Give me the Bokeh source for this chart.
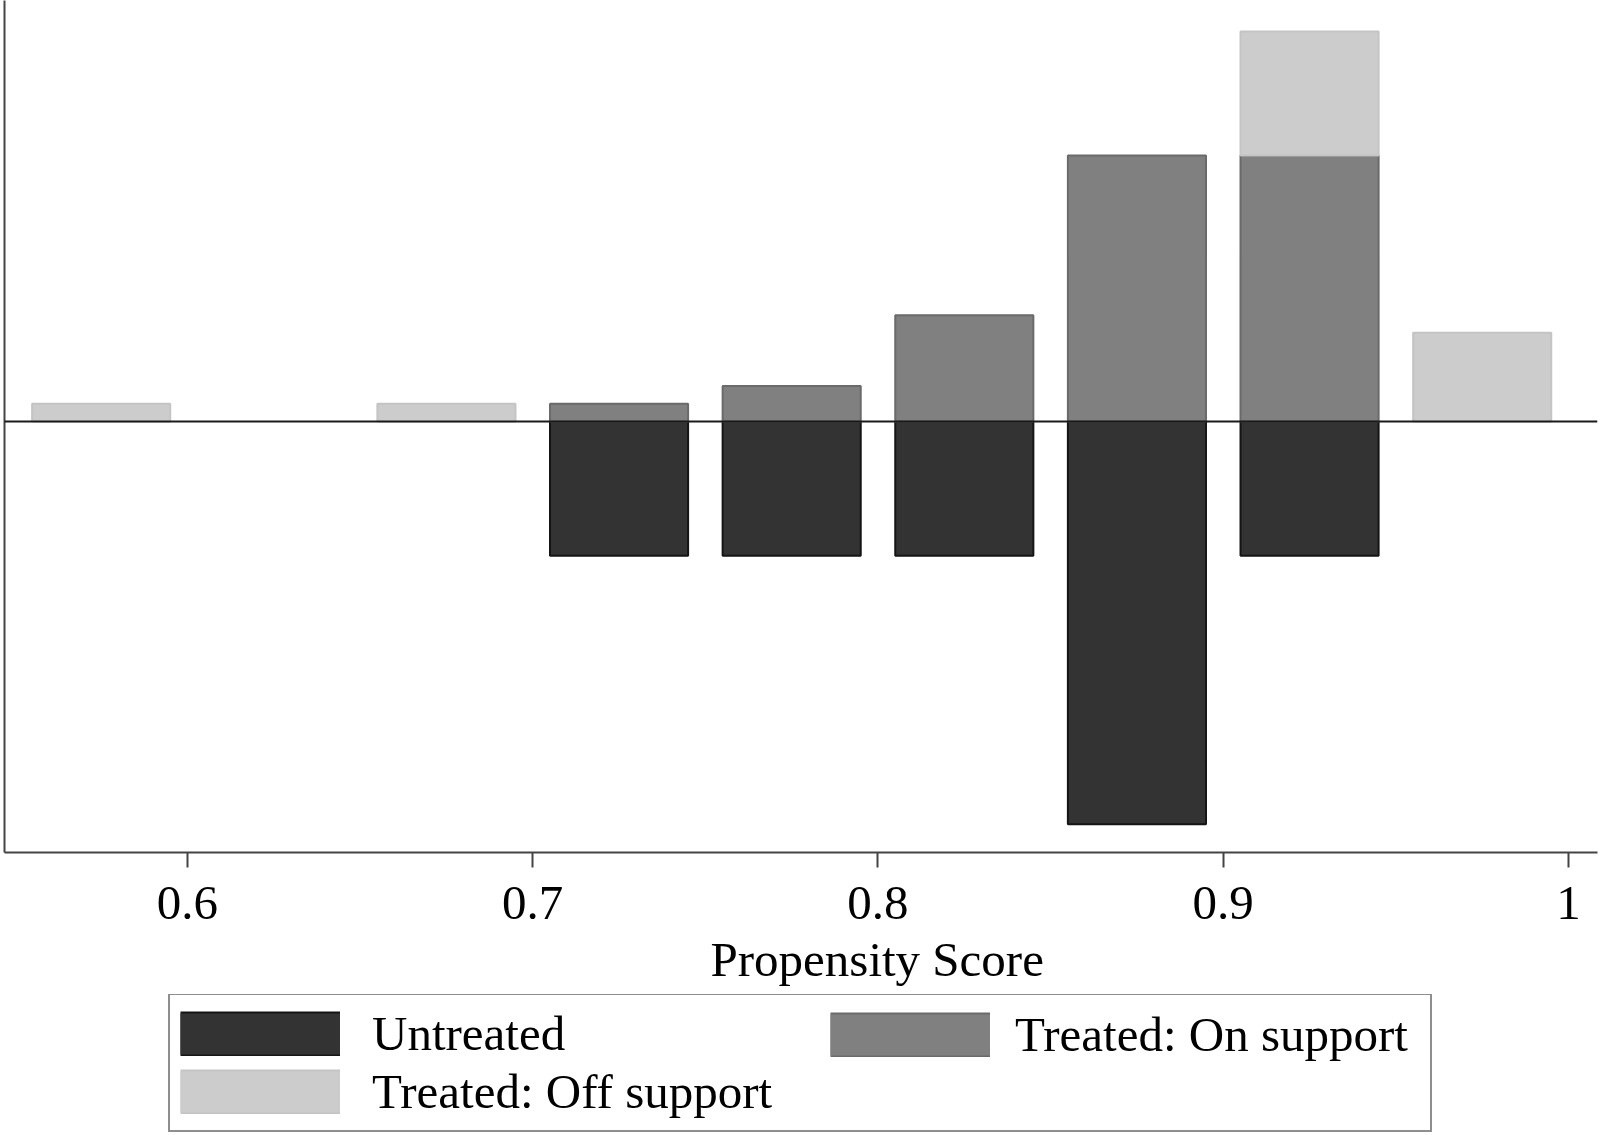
from bokeh.plotting import figure
from bokeh.layouts import column
from bokeh.models import (Range1d, FixedTicker, Span, Legend, LegendItem, Title)
from bokeh.embed import file_html
from bokeh.resources import INLINE

# ---- data (density of propensity score, bins of width 0.05) ----
bin_centers = [0.575, 0.625, 0.675, 0.725, 0.775, 0.825, 0.875, 0.925, 0.975]
untreated = [0.0, 0.0, 0.0, 2.857, 2.857, 2.857, 8.571, 2.857, 0.0]
treated_on = [0.0, 0.0, 0.0, 0.377, 0.755, 2.264, 5.660, 5.660, 0.0]
treated_off = [0.377, 0.0, 0.377, 0.0, 0.0, 0.0, 0.0, 2.642, 1.887]

tick_values = [0.6, 0.7, 0.8, 0.9, 1]
tick_labels = ["0.6", "0.7", "0.8", "0.9", "1"]

series_names = ["Untreated", "Treated: On support", "Treated: Off support"]
x_label = "Propensity Score"

bar_width = 0.04
FONT = "Liberation Serif"
FSIZE = "49px"

FILL = {"un": "#333333", "on": "#808080", "off": "#cccccc"}
EDGE = {"un": "#151515", "on": "#6a6a6a", "off": "#c4c4c4"}

# bar geometry derived from the data
ux = [c for c, v in zip(bin_centers, untreated) if v > 0]
uv = [-v for v in untreated if v > 0]
ox = [c for c, v in zip(bin_centers, treated_on) if v > 0]
ov = [v for v in treated_on if v > 0]
fx, fb, ft = [], [], []
for c, on, off in zip(bin_centers, treated_on, treated_off):
    if off > 0:
        fx.append(c)
        fb.append(on)
        ft.append(on + off)

# ---------------- main chart ----------------
p = figure(width=1600, height=994, output_backend="svg", toolbar_location=None,
           x_range=Range1d(0.5470, 1.0084), y_range=Range1d(-9.173, 8.961),
           min_border_left=4, min_border_right=3, min_border_top=0,
           min_border_bottom=141)
p.outline_line_color = None
p.xgrid.visible = False
p.ygrid.visible = False

p.vbar(x=ux, top=0, bottom=uv, width=bar_width,
       fill_color=FILL["un"], line_color=EDGE["un"], line_width=2)
p.vbar(x=ox, bottom=0, top=ov, width=bar_width,
       fill_color=FILL["on"], line_color=EDGE["on"], line_width=2)
p.vbar(x=fx, bottom=fb, top=ft, width=bar_width,
       fill_color=FILL["off"], line_color=EDGE["off"], line_width=2)

p.add_layout(Span(location=0, dimension="width", line_color="#1a1a1a", line_width=2))

xa = p.xaxis[0]
xa.ticker = FixedTicker(ticks=tick_values)
xa.major_label_overrides = dict(zip(tick_values, tick_labels))
xa.minor_tick_line_color = None
xa.major_tick_in = 0
xa.major_tick_out = 15
xa.major_tick_line_color = "#444444"
xa.major_tick_line_width = 2
xa.axis_line_color = "#444444"
xa.axis_line_width = 2
xa.major_label_text_font = FONT
xa.major_label_text_font_size = FSIZE
xa.major_label_text_color = "black"
xa.major_label_standoff = 19

ya = p.yaxis[0]
ya.ticker = FixedTicker(ticks=[])
ya.major_tick_out = 0
ya.major_tick_in = 0
ya.minor_tick_line_color = None
ya.major_label_standoff = 0
ya.major_label_text_font_size = "0px"
ya.axis_line_color = "#444444"
ya.axis_line_width = 2

t = Title(text=x_label, align="left", offset=706, text_font=FONT,
          text_font_size=FSIZE, text_font_style="normal", text_color="black",
          standoff=16)
p.add_layout(t, "below")

# ---------------- legend strip ----------------
LEG_H = 141
q = figure(width=1600, height=LEG_H, output_backend="svg", toolbar_location=None,
           x_range=Range1d(0, 1600), y_range=Range1d(0, LEG_H),
           x_axis_type=None, y_axis_type=None,
           min_border_left=0, min_border_right=0, min_border_top=0,
           min_border_bottom=0)
q.outline_line_color = None
q.xgrid.visible = False
q.ygrid.visible = False


def swatch(key, values):
    # legend swatch: outline band + fill band (hidden renderers, data from the series)
    edge = q.line(x=bin_centers, y=values, line_width=45, line_color=EDGE[key],
                  line_cap="butt", visible=False)
    fill = q.line(x=bin_centers, y=values, line_width=41, line_color=FILL[key],
                  line_cap="butt", visible=False)
    return [edge, fill]


k_un = swatch("un", untreated)
k_on = swatch("on", treated_on)
k_off = swatch("off", treated_off)

PAD = 10
SP = 1
ROW_H = 58
common = dict(glyph_width=160, glyph_height=45,
              label_text_font=FONT, label_text_font_size=FSIZE,
              label_text_color="black", margin=0, padding=PAD, spacing=SP,
              inactive_fill_alpha=0.0)
leg1 = Legend(items=[LegendItem(label=series_names[0], renderers=k_un),
                     LegendItem(label=series_names[2], renderers=k_off)],
              location=(164, 3), label_width=1048, label_standoff=32,
              border_line_color="#1e1e1e", border_line_width=2,
              background_fill_color="white", background_fill_alpha=1.0, **common)
leg2 = Legend(items=[LegendItem(label=series_names[1], renderers=k_on)],
              location=(832 - PAD - 6, 3 + ROW_H + SP), label_standoff=25,
              border_line_color="white", border_line_alpha=0.0,
              background_fill_alpha=0.0, **common)
q.add_layout(leg1)
q.add_layout(leg2)

layout = column(p, q, spacing=0)
open("out.html", "w").write(file_html(layout, INLINE))
